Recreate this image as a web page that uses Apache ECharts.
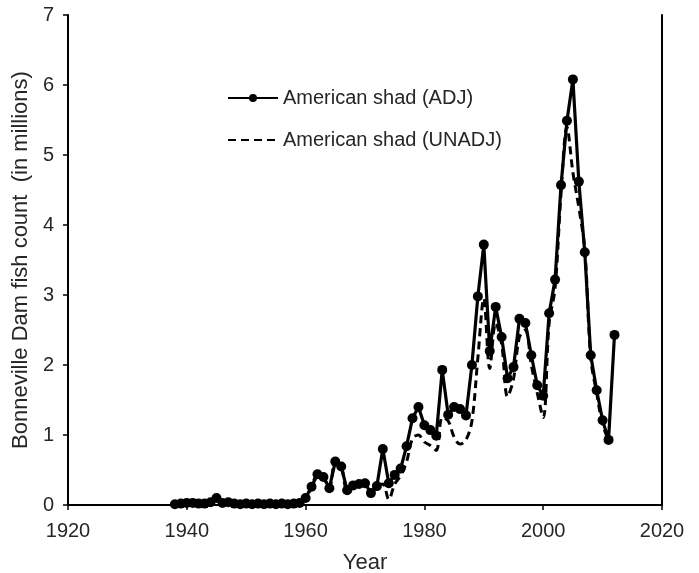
<!DOCTYPE html>
<html>
<head>
<meta charset="utf-8">
<script src="https://cdn.jsdelivr.net/npm/echarts@6/dist/echarts.min.js"></script>
<style>
  html, body { margin: 0; padding: 0; background: #fff; }
  #chart { width: 699px; height: 573px; }
</style>
</head>
<body>
<div id="chart"></div>
<script>
// years 1938..2012
const years = [];
for (let y = 1938; y <= 2012; y++) years.push(y);

// adjusted counts (millions), 1938..2012
const adj = [
  0.01, 0.02, 0.03, 0.03, 0.02, 0.02, 0.04, 0.10, 0.03, 0.04, // 1938-1947
  0.02, 0.01, 0.02, 0.01, 0.02, 0.01, 0.02, 0.01, 0.02, 0.01, // 1948-1957
  0.02, 0.03, 0.10, 0.26, 0.44, 0.40, 0.24, 0.62, 0.55, 0.21, // 1958-1967
  0.28, 0.30, 0.31, 0.17, 0.27, 0.80, 0.31, 0.43, 0.52, 0.84, // 1968-1977
  1.24, 1.40, 1.14, 1.07, 0.99, 1.93, 1.29, 1.40, 1.37, 1.28, // 1978-1987
  2.00, 2.98, 3.72, 2.20, 2.83, 2.40, 1.81, 1.97, 2.66, 2.60, // 1988-1997
  2.14, 1.71, 1.56, 2.74, 3.22, 4.57, 5.49, 6.08, 4.62, 3.61, // 1998-2007
  2.14, 1.64, 1.21, 0.93, 2.43                                // 2008-2012
];

// unadjusted counts (millions), 1938..2011
const unadj = [
  0.01, 0.02, 0.03, 0.03, 0.02, 0.02, 0.04, 0.10, 0.03, 0.04,
  0.02, 0.01, 0.02, 0.01, 0.02, 0.01, 0.02, 0.01, 0.02, 0.01,
  0.02, 0.03, 0.10, 0.26, 0.44, 0.40, 0.24, 0.62, 0.55, 0.21,
  0.28, 0.30, 0.31, 0.17, 0.27, 0.30, 0.08, 0.30, 0.42, 0.62,
  0.95, 1.00, 0.90, 0.85, 0.78, 1.25, 1.20, 0.97, 0.87, 0.93,
  1.20, 2.10, 2.95, 1.95, 2.60, 2.30, 1.55, 1.80, 2.40, 2.50,
  2.00, 1.60, 1.25, 2.60, 3.10, 4.45, 5.40, 4.75, 4.25, 3.65,
  2.10, 1.60, 1.15, 0.93
];

const xTicks = [1920, 1940, 1960, 1980, 2000, 2020];
const yTicks = [0, 1, 2, 3, 4, 5, 6, 7];

const txt = '#262626';
const font = 'Liberation Sans, Arial, sans-serif';

const chart = echarts.init(document.getElementById('chart'));
chart.setOption({
  animation: false,
  textStyle: { fontFamily: font },
  grid: { left: 68, right: 37, top: 15, bottom: 68, outerBoundsMode: 'none' },
  legend: {
    orient: 'vertical',
    left: 222,
    top: 83,
    itemWidth: 50,
    itemHeight: 10,
    itemGap: 22,
    textStyle: { fontSize: 20, color: txt, fontFamily: font },
    data: [
      { name: 'American shad (ADJ)' },
      { name: 'American shad (UNADJ)', itemStyle: { opacity: 0 } }
    ]
  },
  xAxis: {
    type: 'value',
    min: xTicks[0],
    max: xTicks[xTicks.length - 1],
    interval: 20,
    name: 'Year',
    nameLocation: 'middle',
    nameGap: 47,
    nameTextStyle: { fontSize: 22, color: txt },
    axisLine: { lineStyle: { color: '#000', width: 2 } },
    axisTick: { length: 5, lineStyle: { color: '#000', width: 1.5 } },
    axisLabel: { fontSize: 20, color: txt, margin: 16, formatter: v => String(v) },
    splitLine: { show: false }
  },
  yAxis: [{
    type: 'value',
    min: yTicks[0],
    max: yTicks[yTicks.length - 1],
    interval: 1,
    name: 'Bonneville Dam fish count  (in millions)',
    nameLocation: 'middle',
    nameGap: 32,
    nameTextStyle: { fontSize: 22, color: txt },
    axisLine: { show: true, lineStyle: { color: '#000', width: 2 } },
    axisTick: { show: true, length: 5, lineStyle: { color: '#000', width: 1.5 } },
    axisLabel: { fontSize: 20, color: txt, margin: 14 },
    splitLine: { show: false }
  }, {
    type: 'value',
    position: 'right',
    min: yTicks[0],
    max: yTicks[yTicks.length - 1],
    interval: 1,
    axisLine: { show: true, lineStyle: { color: '#000', width: 2 } },
    axisTick: { show: false },
    axisLabel: { show: false },
    splitLine: { show: false }
  }],
  series: [
    {
      name: 'American shad (UNADJ)',
      type: 'line',
      smooth: 0.35,
      showSymbol: false,
      symbol: 'none',
      lineStyle: { color: '#000', width: 3, type: [8, 5] },
      itemStyle: { color: '#000' },
      data: unadj.map((v, i) => [years[i], v]),
      z: 2
    },
    {
      name: 'American shad (ADJ)',
      type: 'line',
      symbol: 'circle',
      symbolSize: 10,
      lineStyle: { color: '#000', width: 3.2 },
      itemStyle: { color: '#000' },
      data: adj.map((v, i) => [years[i], v]),
      z: 3
    }
  ]
});
</script>
</body>
</html>
